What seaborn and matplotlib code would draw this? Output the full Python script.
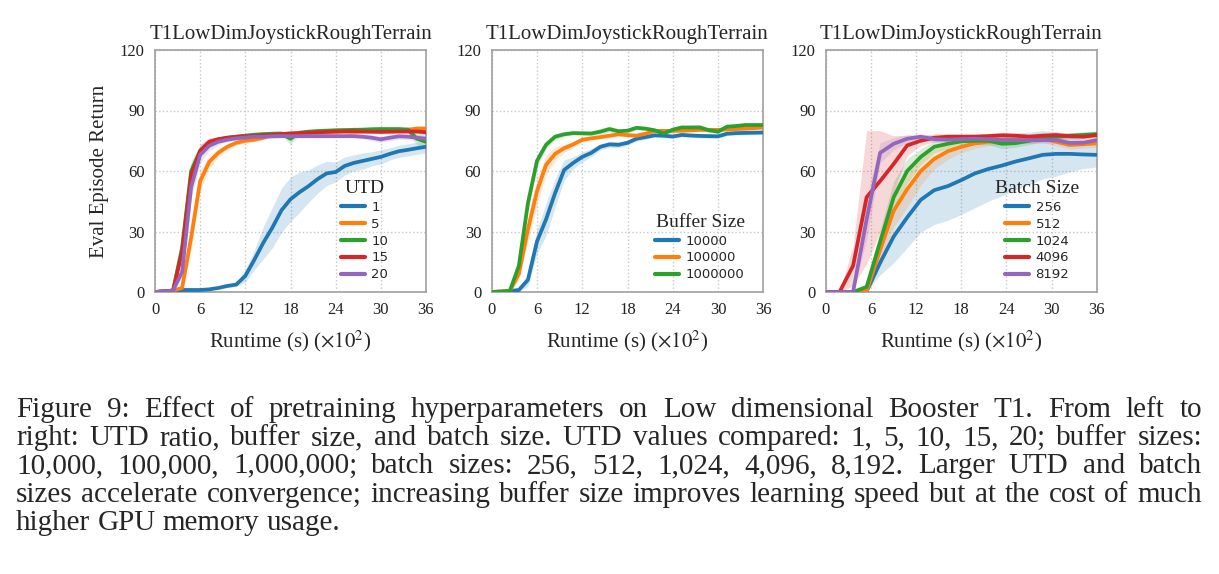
import numpy as np
import pandas as pd
import matplotlib
matplotlib.use("Agg")
import matplotlib.pyplot as plt
import seaborn as sns

# ---- data (x in units of 100 s) ----
x1 = [0, 1.2, 2.4, 3.6, 4.8, 6, 7.2, 8.4, 9.6, 10.8, 12, 13.2, 14.4, 15.6, 16.8, 18,
      19.2, 20.4, 21.6, 22.8, 24, 25.2, 26.4, 27.6, 28.8, 30, 31.2, 32.4, 33.6, 34.8, 36]

utd_1 = [0, 0.3, 0.7, 1, 1, 1, 1.3, 2, 3, 3.7, 8, 16, 24.5, 32, 40.5, 46,
         49.5, 52.5, 56, 58.8, 59.5, 62.5, 64, 65, 66, 67, 68.5, 69.8, 70.5, 71.3, 72]
utd_5 = [0, 0.3, 0.7, 2, 27, 55, 64.5, 69, 72, 74, 75, 75.5, 76.5, 78, 78.3, 78.6,
         78.8, 79, 79.2, 79.3, 79.5, 79.6, 79.5, 79.7, 79.8, 80, 80, 80.2, 80.5, 81, 81]
utd_10 = [0, 0.3, 0.7, 22, 60, 70, 74, 75.5, 76.5, 77, 77.5, 78, 78.3, 78.5, 78.6, 76,
          79, 79.5, 79.8, 80, 80.2, 80.3, 80.4, 80.5, 80.7, 80.8, 80.8, 80.8, 80.5, 76, 74.5]
utd_15 = [0, 0.3, 0.7, 20, 58, 70, 74.5, 75.8, 76.5, 77, 77.2, 77.5, 77.8, 78, 78.3, 78.6,
          78.8, 79, 79.2, 79.4, 79.6, 79.7, 79.7, 79.6, 79.5, 79.4, 79.5, 79.6, 79.6, 79.6, 79.2]
utd_20 = [0, 0.3, 0.7, 10, 52, 68, 72.5, 74.5, 75.5, 76.2, 76.6, 77, 77, 77.2, 77.3, 77.3,
          77.3, 77.3, 77.3, 77.3, 77.3, 77.3, 77.3, 77, 76.5, 75.7, 76.5, 77.2, 77, 76.5, 76]
utd_1_sd = [0, 0, 0, 0.2, 0.3, 0.3, 0.4, 0.5, 0.8, 1, 3, 5, 8, 10, 11, 11,
            10, 8, 7, 6, 5, 4.5, 4, 4, 3.5, 3.5, 3, 3, 3, 3, 3]
utd_5_sd = [0, 0, 0, 1, 6, 5, 3, 2, 1.5, 1.2, 1, 1, 1, 1, 1, 1,
            1, 1, 1, 1, 1, 1, 2.5, 1, 1, 1, 1, 1, 1, 1.5, 1.5]
utd_10_sd = [0, 0, 0, 4, 5, 3, 2, 1.5, 1, 1, 1, 1, 1, 1, 1, 3,
             1, 1, 1, 1, 1, 1, 1, 1, 1, 1, 1, 1, 1.5, 3, 4]
utd_15_sd = [0, 0, 0, 4, 5, 3, 2, 1, 1, 1, 1, 1, 1, 1, 1, 1,
             1, 1, 1, 1, 1, 1, 1, 1, 1, 1, 1, 1, 1, 1, 1]
utd_20_sd = [0, 0, 0, 3, 6, 4, 2.5, 1.5, 1, 1, 1, 1, 1, 1, 1, 1,
             1, 1, 1, 1, 1, 1, 1, 1, 1.5, 1.5, 1.5, 1.5, 1.5, 1.5, 1.5]

x2 = x1
buf_10k = [0, 0.2, 0.5, 1, 6, 25, 36, 49, 60.5, 64, 67, 69, 72, 73.2, 73, 74,
           76, 76.8, 77.7, 77.5, 77.1, 77.9, 77.6, 77.4, 77.3, 77.2, 78.5, 78.8, 78.9, 79, 79.1]
buf_100k = [0, 0.2, 0.5, 9, 31, 50, 63, 68.5, 71.3, 73.2, 75.5, 76.2, 76.8, 77.5, 78.2, 77.8,
            77.5, 78.5, 79.9, 79.9, 79.9, 80, 80.2, 80.4, 80.4, 80.4, 80.6, 80.8, 81, 81.3, 81.6]
buf_1m = [0, 0.2, 0.5, 13, 44, 65, 73, 77, 78.2, 78.8, 78.7, 78.6, 79.5, 80.8, 79.7, 80,
          81.4, 81, 80.2, 78.6, 80.5, 81.6, 81.6, 81.6, 80.2, 79.5, 82, 82.3, 82.8, 82.8, 82.8]
buf_10k_sd = [0, 0, 0.2, 1, 3, 6, 8, 7, 5, 3, 2.5, 2, 1.5, 1.5, 1.5, 1.2,
              1.2, 1, 1, 1, 1, 1, 1, 1, 1, 1, 1, 1, 1, 1, 1]
buf_100k_sd = [0, 0, 0.2, 3, 6, 6, 5, 3.5, 2, 1.5, 1.2, 1, 1, 1, 1, 1,
               1, 1, 1, 1, 1, 1, 1, 1, 1, 1, 1, 1, 1, 1, 1]
buf_1m_sd = [0, 0, 0.2, 3, 4, 3, 2, 1.5, 1, 1, 1, 1.2, 1.5, 1.5, 1.2, 1.2,
             1, 1, 1, 1, 1, 1, 1, 1.5, 1, 1, 1, 1, 1, 1, 1]

x3 = [0, 1.8, 3.6, 5.4, 7.2, 9, 10.8, 12.6, 14.4, 16.2, 18, 19.8, 21.6, 23.4,
      25.2, 27, 28.8, 30.6, 32.4, 34.2, 36]
bs_256 = [0, 0, 0, 0.3, 14.5, 27.5, 37, 45.7, 50.5, 52.5, 55.5, 58.8, 61, 62.7,
          64.7, 66.3, 68, 68.5, 68.5, 68.2, 68]
bs_512 = [0, 0, 0, 0.3, 21, 40.3, 51, 60, 66, 69.8, 72, 73.7, 74.5, 75.2,
          75.5, 75.8, 76.1, 74.5, 72.9, 73.3, 73.7]
bs_1024 = [0, 0, 0, 2.5, 25, 47, 60, 67, 72, 73.5, 74.7, 75, 75, 73.5,
           73.8, 75, 76.2, 77, 77.5, 77.9, 78.3]
bs_4096 = [0, 0, 13, 47, 55, 63.5, 72.7, 75, 76.5, 77, 77, 77, 77.3, 77.7,
           77.5, 77, 77.5, 77.8, 77.3, 77, 77.8]
bs_8192 = [0, 0, 0, 36, 69, 73.5, 76, 77, 75.8, 75.5, 75.8, 76, 75.8, 75.4,
           75.3, 75.3, 75.3, 75.3, 73.9, 74, 75.3]
bs_256_sd = [0, 0, 0, 0.5, 6, 13, 15, 16, 17, 17, 17, 17, 16, 15, 14, 13, 12, 11, 9, 7, 6]
bs_512_sd = [0, 0, 0, 0.5, 6, 8, 9, 7, 5, 4, 3, 2.5, 2, 2, 2, 2, 2, 2, 2, 2, 2]
bs_1024_sd = [0, 0, 0, 1, 6, 8, 6, 4, 3, 2.5, 2, 2, 2, 2.5, 2, 2, 1.5, 1.5, 1.5, 1.5, 1.5]
bs_4096_sd = [0, 0, 10, 33, 25, 14, 5, 2.5, 2, 1.5, 1.5, 1.5, 1.5, 1.5, 1.5, 1.5, 1.5, 1.5, 1.5, 1.5, 1.5]
bs_8192_sd = [0, 0, 0.5, 10, 5, 3, 2, 1.5, 1.5, 1.5, 1.5, 1.5, 1.5, 1.5, 1.5, 1.5, 1.5, 1.5, 1.5, 1.5, 1.5]

panels = [
    ("UTD", x1, ["1", "5", "10", "15", "20"],
     [utd_1, utd_5, utd_10, utd_15, utd_20],
     [utd_1_sd, utd_5_sd, utd_10_sd, utd_15_sd, utd_20_sd]),
    ("Buffer Size", x2, ["10000", "100000", "1000000"],
     [buf_10k, buf_100k, buf_1m],
     [buf_10k_sd, buf_100k_sd, buf_1m_sd]),
    ("Batch Size", x3, ["256", "512", "1024", "4096", "8192"],
     [bs_256, bs_512, bs_1024, bs_4096, bs_8192],
     [bs_256_sd, bs_512_sd, bs_1024_sd, bs_4096_sd, bs_8192_sd]),
]
title = "T1LowDimJoystickRoughTerrain"

caption_lines = [
    "Figure 9:  Effect of pretraining hyperparameters on Low dimensional Booster T1.  From left to",
    "right: UTD ratio, buffer size, and batch size. UTD values compared: 1, 5, 10, 15, 20; buffer sizes:",
    "10,000, 100,000, 1,000,000; batch sizes: 256, 512, 1,024, 4,096, 8,192. Larger UTD and batch",
    "sizes accelerate convergence; increasing buffer size improves learning speed but at the cost of much",
    "higher GPU memory usage.",
]

# ---- style ----
sns.set_style("white")
serif = "Liberation Serif"
plt.rcParams["font.family"] = [serif, "DejaVu Serif"]
plt.rcParams["mathtext.fontset"] = "stix"
colors = sns.color_palette("tab10")[:5]

W, H = 1219, 574
fig = plt.figure(figsize=(W / 100, H / 100), dpi=100)

lefts = [155, 491.7, 826]
widths = [271, 271.6, 270.7]
legend_anchor = [(0.90, 0.0), (0.97, 0.0), (0.975, 0.0)]

for i, (leg_title, xs, labels, means, sds) in enumerate(panels):
    ax = fig.add_axes([lefts[i] / W, 1 - 292 / H, widths[i] / W, 242 / H])
    rows = []
    for lab, m in zip(labels, means):
        for xv, yv in zip(xs, m):
            rows.append((xv, yv, lab))
    df = pd.DataFrame(rows, columns=["x", "y", "label"])
    pal = dict(zip(labels, colors[:len(labels)]))
    sns.lineplot(data=df, x="x", y="y", hue="label", hue_order=labels,
                 palette=pal, lw=2.7, errorbar=None, ax=ax, legend=False, zorder=3)
    for lab, m, s in zip(labels, means, sds):
        m = np.array(m)
        s = np.array(s)
        ax.fill_between(xs, np.clip(m - s, 0, None), m + s,
                        color=pal[lab], alpha=0.18, lw=0, zorder=2)

    ax.set_xlim(0, 36)
    ax.set_ylim(0, 120)
    ax.set_xticks(range(0, 37, 6))
    ax.set_yticks(range(0, 121, 30))
    ax.grid(True, ls=":", color="#c8c8c8", lw=1)
    for sp in ax.spines.values():
        sp.set_color("#a0a0a0")
        sp.set_linewidth(1.2)
    ax.tick_params(axis="both", labelsize=12, color="#a0a0a0", length=4,
                   width=1, labelcolor="#222222", direction="out")
    ax.set_title(title, fontsize=15, pad=8)
    ax.set_xlabel(r"Runtime (s) ($\times10^2$)", fontsize=15, labelpad=7)
    if i == 0:
        ax.set_ylabel("Eval Episode Return", fontsize=15, labelpad=8)
    else:
        ax.set_ylabel("")

    handles = [plt.Line2D([], [], color=pal[l], lw=3) for l in labels]
    leg = ax.legend(handles, labels, title=leg_title, loc="lower right",
                    bbox_to_anchor=legend_anchor[i], frameon=False,
                    prop={"family": "DejaVu Sans", "size": 9.5},
                    title_fontproperties={"family": serif, "size": 14},
                    handlelength=1.8, handletextpad=0.5, labelspacing=0.3,
                    borderpad=0.3)

# ---- caption, justified ----
renderer = fig.canvas.get_renderer()
cap_fs = 21
cap_x0, cap_x1 = 16, 1202
baselines = [417, 445, 473, 502, 530]
for j, (line, yb) in enumerate(zip(caption_lines, baselines)):
    words = [w for w in line.split(" ") if w != ""]
    texts = [fig.text(0, 1 - yb / H, w, fontsize=cap_fs, family=serif, va="baseline")
             for w in words]
    wds = [t.get_window_extent(renderer).width for t in texts]
    if j == len(caption_lines) - 1:
        gap = cap_fs * 100 / 72 * 0.25
    else:
        gap = (cap_x1 - cap_x0 - sum(wds)) / (len(words) - 1)
    xp = cap_x0
    for t, wd in zip(texts, wds):
        t.set_x(xp / W)
        xp += wd + gap

fig.savefig("out.png", dpi=100)
